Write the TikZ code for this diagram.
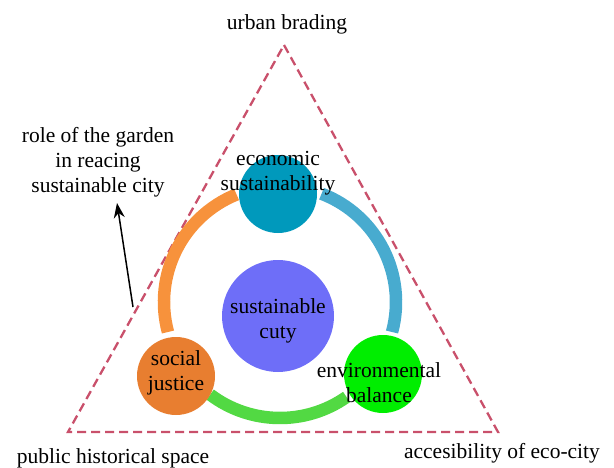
\documentclass[tikz,border=0pt]{standalone}
\usepackage{fontspec}
\setmainfont{Liberation Serif}
\usetikzlibrary{arrows.meta}
\definecolor{tri}{HTML}{C9506B}
\definecolor{econc}{HTML}{0099BC}
\definecolor{centc}{HTML}{6E6EF8}
\definecolor{socc}{HTML}{E87E30}
\definecolor{envc}{HTML}{00EE00}
\definecolor{arcor}{HTML}{F7923C}
\definecolor{arcte}{HTML}{48ABCF}
\definecolor{arcgr}{HTML}{52D943}
\begin{document}
\begin{tikzpicture}[x=1pt,y=1pt,
  lbl/.style={font=\fontsize{21.5}{25}\selectfont, align=center, inner sep=0pt},
  ringarc/.style={line width=12.5pt},
  ball/.style={circle, inner sep=0pt, draw=none}]
\useasboundingbox (0,0) rectangle (614,467);
% triangle
\coordinate (A) at (284,422);
\coordinate (BL) at (68,35);
\coordinate (BR) at (498,35);
\draw[tri, line width=2.3pt, dash pattern=on 9pt off 5pt] (A) -- (BR) -- (BL) -- cycle;
% ring arcs
\coordinate (RC) at (280,165);
\draw[ringarc, arcor] (RC) ++(195:116) arc[start angle=195, end angle=112, radius=116];
\draw[ringarc, arcte] (RC) ++(69:116) arc[start angle=69, end angle=-15, radius=116];
\draw[ringarc, arcgr] (RC) ++(233:116) arc[start angle=233, end angle=305, radius=116];
% circles
\node[ball, fill=econc, minimum size=78pt] (econ) at (278,273) {};
\node[ball, fill=centc, minimum size=112pt] (cent) at (278,151) {};
\node[ball, fill=socc, minimum size=78pt] (soc) at (176,91) {};
\node[ball, fill=envc, minimum size=78pt] (env) at (383,93) {};
% circle labels
\node[lbl] (econt) at (278,294) {economic\\sustainability};
\node[lbl] (centt) at (278,146.5) {sustainable\\cuty};
\node[lbl] (soct) at (176,94.5) {social\\justice};
\node[lbl] (envt) at (379,84.5) {environmental\\balance};
% corner labels
\node[lbl] (top) at (287,443) {urban brading};
\node[lbl] (bl) at (113,9) {public historical space};
\node[lbl] (br) at (502,14) {accesibility of eco-city};
\node[lbl] (role) at (98,305) {role of the garden\\in reacing\\sustainable city};
% arrow
\coordinate (as) at (133,160);
\coordinate (ae) at (117,264);
\draw[line width=1.5pt, -{Stealth[length=15pt,width=11pt]}] (as) -- (ae);
\end{tikzpicture}
\end{document}
